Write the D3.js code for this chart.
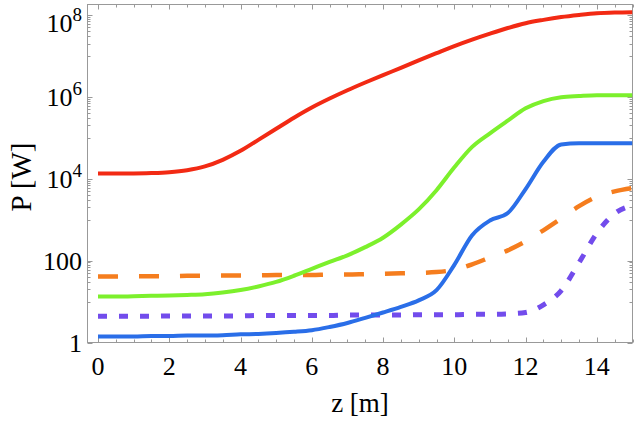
<!DOCTYPE html>
<html>
<head>
<meta charset="utf-8">
<script src="https://cdn.jsdelivr.net/npm/d3@7"></script>
<style>
  html, body { margin: 0; padding: 0; background: #fff; }
  svg { display: block; }
  text { font-family: "Liberation Serif", "Times New Roman", Times, serif; fill: #000; }
</style>
</head>
<body>
<svg id="chart" width="640" height="422"></svg>
<script>
// ---- data ----
const zValues = [0,0.5,1,1.5,2,2.5,3,3.5,4,4.5,5,5.5,6,6.5,7,7.5,8,8.5,9,9.5,10,10.5,11,11.5,12,12.5,13,13.5,14,14.5,15];

const redP = [1.35e4,1.35e4,1.35e4,1.38e4,1.45e4,1.62e4,2.0e4,2.9e4,4.8e4,8.9e4,1.66e5,3.1e5,5.5e5,9.1e5,1.45e6,2.24e6,3.4e6,5.1e6,7.8e6,1.17e7,1.74e7,2.5e7,3.5e7,4.8e7,6.3e7,7.6e7,8.9e7,1.0e8,1.1e8,1.15e8,1.17e8];
const greenP = [13.2,13.2,13.5,13.8,14.1,14.5,15.1,16.6,19.1,23.4,30.2,42.7,63,93,135,214,363,759,1780,5250,1.9e4,6.0e4,1.29e5,2.63e5,5.25e5,7.9e5,9.8e5,1.05e6,1.1e6,1.1e6,1.1e6];
const blueP = [1.41,1.41,1.41,1.45,1.45,1.48,1.48,1.51,1.58,1.62,1.70,1.82,2.0,2.4,3.0,4.0,5.4,7.4,10.7,19,79,417,955,1450,5600,2.6e4,6.9e4,7.4e4,7.4e4,7.4e4,7.4e4];
const orangeP = [40.7,40.7,41.7,41.7,41.7,42.7,42.7,43.6,43.6,43.6,44.7,44.7,44.7,45.7,45.7,46.8,47.9,49,50,52.5,60,81,120,178,295,550,1070,2140,3630,4900,5900];
const purpleP = [4.37,4.37,4.37,4.37,4.47,4.47,4.47,4.47,4.47,4.57,4.57,4.57,4.57,4.57,4.68,4.68,4.68,4.68,4.79,4.79,4.79,4.9,4.9,5.0,5.4,8.3,18.6,89,468,1410,2240];

const xTickValues = [0,2,4,6,8,10,12,14];
const yTickExponents = [0,2,4,6,8];

const seriesDefs = [
  {name: "orange", values: orangeP, color: "#f57d1e", dash: "20,21", width: 4.5},
  {name: "purple", values: purpleP, color: "#724cec", dash: "9,12", width: 5},
  {name: "red",    values: redP,    color: "#f22a14", dash: null, width: 4},
  {name: "green",  values: greenP,  color: "#7cf02c", dash: null, width: 4},
  {name: "blue",   values: blueP,   color: "#2a6ee8", dash: null, width: 4}
];

// ---- layout ----
const svg = d3.select("#chart");
const pLeft = 87.5, pRight = 632.5, pTop = 4.5, pBottom = 342.5;

const xRef = d3.scaleLinear().domain([0, 15]).range([98, 632.6]);
const x = d3.scaleLinear().domain([xRef.invert(pLeft), 15]).range([pLeft, pRight]);

const y = d3.scaleLog().domain([1, Math.pow(10, 8.256)]).range([pBottom, pTop]);

// clip
svg.append("defs").append("clipPath").attr("id", "clip")
  .append("rect").attr("x", pLeft).attr("y", pTop).attr("width", pRight - pLeft).attr("height", pBottom - pTop);

// frame
const frameColor = "#999999";
svg.append("rect").attr("x", pLeft).attr("y", pTop).attr("width", pRight - pLeft).attr("height", pBottom - pTop)
  .attr("fill", "none").attr("stroke", frameColor).attr("stroke-width", 1);

// x ticks (bottom and top, inside)
const xMinor = d3.range(0, 15.01, 0.5);
const tg = svg.append("g").attr("stroke", frameColor).attr("stroke-width", 1);
xMinor.forEach(v => {
  const major = xTickValues.includes(v);
  const len = major ? 5 : 3;
  const px = Math.round(x(v)) + 0.5;
  tg.append("line").attr("x1", px).attr("x2", px).attr("y1", pBottom).attr("y2", pBottom - len);
  tg.append("line").attr("x1", px).attr("x2", px).attr("y1", pTop).attr("y2", pTop + len);
});

// y ticks (left and right, inside)
const yMajorVals = yTickExponents.map(e => Math.pow(10, e));
const yMinorVals = [];
yTickExponents.forEach(e => {
  if (e === 0) return;
  for (let j = 1; j <= 9; j++) yMinorVals.push(j * Math.pow(10, e - 1));
});
yMajorVals.forEach(v => {
  const py = Math.round(y(v)) + 0.5;
  tg.append("line").attr("x1", pLeft).attr("x2", pLeft + 5).attr("y1", py).attr("y2", py);
  tg.append("line").attr("x1", pRight).attr("x2", pRight - 5).attr("y1", py).attr("y2", py);
});
yMinorVals.forEach(v => {
  const py = Math.round(y(v)) + 0.5;
  tg.append("line").attr("x1", pLeft).attr("x2", pLeft + 3).attr("y1", py).attr("y2", py);
  tg.append("line").attr("x1", pRight).attr("x2", pRight - 3).attr("y1", py).attr("y2", py);
});

// x tick labels
svg.append("g").selectAll("text").data(xTickValues).join("text")
  .attr("x", d => x(d)).attr("y", 375)
  .attr("text-anchor", "middle").attr("font-size", 26)
  .text(d => d);

// y tick labels
const yl = svg.append("g");
yTickExponents.forEach(e => {
  const base = y(Math.pow(10, e)) + 9.5 + (e === 8 ? 8 : 0);
  const t = yl.append("text").attr("x", 82).attr("y", base)
    .attr("text-anchor", "end").attr("font-size", 26);
  if (e === 0) t.text("1");
  else if (e === 2) t.text("100");
  else {
    t.append("tspan").text("10");
    t.append("tspan").attr("dy", -11).attr("font-size", 19).text(e);
  }
});

// axis titles
svg.append("text").attr("x", 360).attr("y", 412).attr("text-anchor", "middle")
  .attr("font-size", 27).text("z [m]");
svg.append("text").attr("transform", "translate(31,177) rotate(-90)")
  .attr("text-anchor", "middle").attr("font-size", 29).text("P [W]");

// lines
const line = d3.line()
  .x(d => x(d[0]))
  .y(d => y(d[1]))
  .curve(d3.curveMonotoneX);

const lg = svg.append("g").attr("clip-path", "url(#clip)");
seriesDefs.forEach(s => {
  const pts = zValues.map((z, i) => [z, s.values[i]]);
  lg.append("path").datum(pts)
    .attr("d", line)
    .attr("fill", "none")
    .attr("stroke", s.color)
    .attr("stroke-width", s.width)
    .attr("stroke-dasharray", s.dash)
    .attr("stroke-linejoin", "round");
});
</script>
</body>
</html>
